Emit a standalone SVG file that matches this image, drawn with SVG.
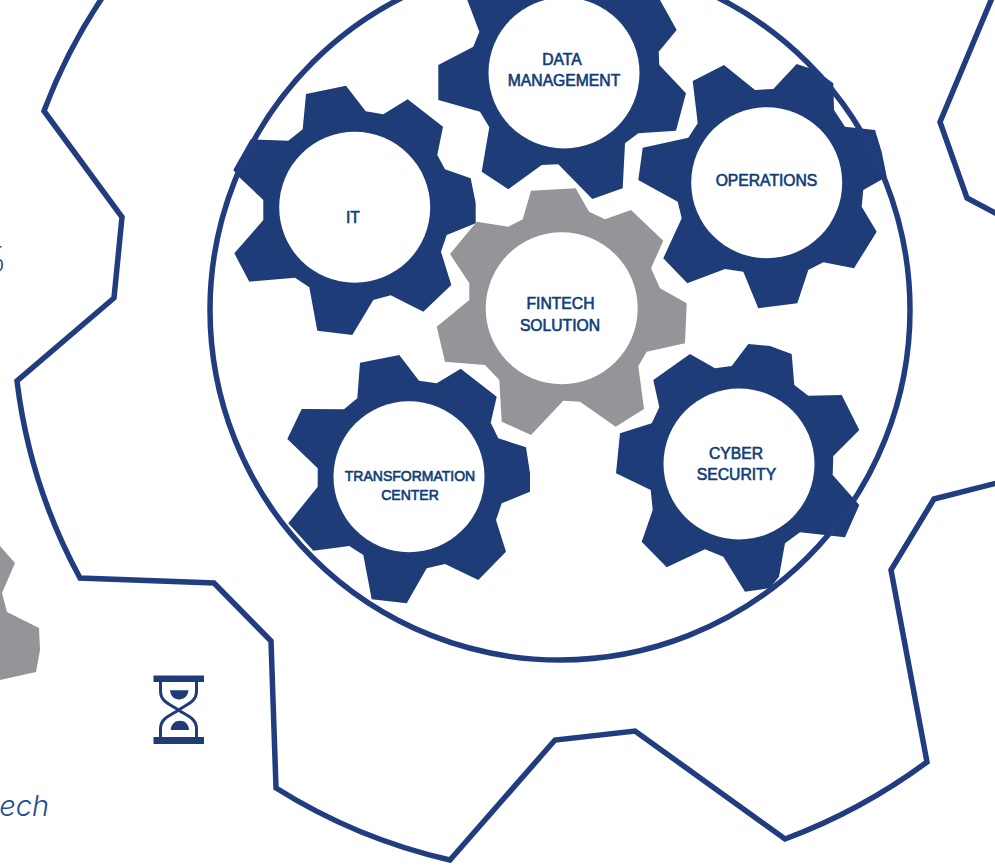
<svg xmlns="http://www.w3.org/2000/svg" width="995" height="866" viewBox="0 0 995 866">
<style>
.line{fill:none;stroke:#223d7f;stroke-width:5.500;stroke-linejoin:miter}
.blue{fill:#1e3d78}
.grey{fill:#939598}
.hole{fill:#fff}
.lbl{font-family:"Liberation Sans",Arial,sans-serif;font-size:15.700px;fill:#0e3d78;stroke:#0e3d78;stroke-width:.6;text-anchor:middle}
</style>
<rect width="995" height="866" fill="#fff"/>
<g id="outer-gear">
<path class="line" d="M102 -2A552 552 0 0 0 44 111L122 217L114 298L17 381A552 552 0 0 0 80 578L214 583L271 641L276 788A560 560 0 0 0 450 860L555 740L635 731L785 839A580 580 0 0 0 927 762L891 570L934 499L997 483"/>
<path class="line" d="M992 -2L940 122L967 198L997 214"/>
</g>
<g id="gear-it"><polygon class="blue" points="306,94 346,85.700 365.700,111.300 383.300,114.300 407.700,99.300 443,126.700 437.300,155 445,169.300 470.700,178.300 475.700,203.300 475.700,223.300 446.700,235 441,251.700 451.300,285 423.300,311.700 390.700,295.300 373.300,300 352.300,335 317.300,330.700 309.300,287.300 295,277.700 249.300,281.700 234.300,253.300 263.300,220 263.300,200 239.300,177.300 233.300,170 250.700,139.300 288.300,140.700 302.700,129.300"/><circle class="hole" cx="354.700" cy="207.300" r="75.500"/></g>
<g id="gear-data"><polygon class="blue" points="467,-5 467.300,0 479.300,31.700 473.300,46.700 438.300,65 438.300,100 480,111.700 489.300,127.300 481.700,171.700 508.300,189.300 541.700,165 558.300,164.300 592.300,199 622.700,188.300 625,143.300 638.300,133.300 676,130.700 686,93.300 659.300,65 658.700,51.700 676.700,30 660,0 660,-5"/><circle class="hole" cx="564" cy="73" r="75.500"/></g>
<g id="gear-operations"><polygon class="blue" points="692.700,81 724,65 755,90 773.300,89 796.700,64 815,70 833.300,83.300 834,110 845,126.700 875,130 881.700,151.700 886.700,176.700 863.300,190 861.700,206.700 876.700,231.700 854,268.300 823.300,262.300 808.300,270 797.300,303.300 758.300,308.300 743.300,271.700 725,269 687.300,283.300 663.300,258.300 681.700,218.300 677.700,201.700 638.300,180 642.700,147.700 688.300,137.700 697.700,123.300"/><circle class="hole" cx="766.700" cy="182.700" r="75.500"/></g>
<g id="gear-transformation"><polygon class="blue" points="360,362.700 399.300,355 419,380.700 436.700,383.300 460.700,368.700 496.700,396.700 490.700,422.700 498.300,438.300 526,447.300 530,473.300 530,491.700 501.700,503.300 496,520 506,551.700 478.300,580 445,564 426.700,568.300 406.700,603.300 371.700,599.300 363.300,555 349.300,546 313.300,550.700 288.300,523.300 317.700,486.700 317.700,468.300 287.300,439 301.700,409 344,409.300 357.300,398.300"/><circle class="hole" cx="409" cy="476.700" r="75.500"/></g>
<g id="gear-cyber"><polygon class="blue" points="748.300,344 770,346 791.700,354 794.300,385 808.300,395.700 841.700,395 859.300,430 833.300,456 832.700,475 859.300,505 845,537.300 800,532.300 785,543.300 779,576.700 770,588 745,591.700 723.300,556.700 705,549.300 666.700,567.300 641.700,541.700 652.700,510 650.700,490 616,473.300 620,433.300 651.700,423.300 659.300,407.300 653.300,380 690,354 715,368.300 731.700,366"/><circle class="hole" cx="739" cy="464" r="75.500"/></g>
<g id="gear-fintech"><polygon class="grey" points="531,190.700 575.700,188.300 589,211.700 605,219.300 631,210 663.300,240.700 651,268.300 660,288.300 686.700,303.300 685,343.300 646.700,351.700 638.300,366 644,409 615.700,426.700 580,401.700 563.300,400.700 531,435 501.700,421.700 499.300,380 485,365 445,361.700 436.700,326.700 469.300,300 469.300,283.300 450,254 476.700,221.700 508.300,226.700 522.700,219.300"/><circle class="hole" cx="561.700" cy="308.300" r="76"/></g>
<circle id="ring" class="line" cx="560" cy="310" r="350"/>
<g id="labels">
<text class="lbl" x="353" y="223">IT</text>
<text class="lbl" x="562" y="64.500">DATA</text>
<text class="lbl" x="564" y="85.500">MANAGEMENT</text>
<text class="lbl" x="766.500" y="185.500">OPERATIONS</text>
<text class="lbl" x="560.500" y="309">FINTECH</text>
<text class="lbl" x="560" y="330.500">SOLUTION</text>
<text class="lbl" x="736" y="458.500">CYBER</text>
<text class="lbl" x="736.500" y="480">SECURITY</text>
<text class="lbl" x="410" y="481" style="font-size:14px">TRANSFORMATION</text>
<text class="lbl" x="410" y="499.500" style="font-size:14px">CENTER</text>
</g>
<g id="left-fragments">
<polygon class="grey" points="0,546 15,563 2,593 7,612 39,628 40,650 36,672 0,680"/>
<text x="-6" y="271" style="font-family:'Liberation Sans',Arial,sans-serif;font-size:17px;fill:#223d6f">0</text>
<rect x="0" y="246" width="1.500" height="1.500" fill="#223d6f"/>
<text x="49" y="816" text-anchor="end" style="font-family:Inter,Arial,sans-serif;font-size:29px;font-style:italic;font-weight:300;fill:#1c4f8f">ech</text>
</g>
<g id="hourglass">
<rect class="blue" x="153.500" y="675.500" width="50.500" height="6.500"/>
<rect class="blue" x="153.500" y="737" width="50.500" height="7"/>
<path fill="none" stroke="#1e3d78" stroke-width="3" d="M160.500 682V691C160.500 702 170 704 178.500 710C187 716 196.500 718 196.500 729V737M196.500 682V691C196.500 702 187 704 178.500 710C170 716 160.500 718 160.500 729V737"/>
<path class="blue" d="M170 690.300H188.500C188 696 184 699.500 179 699.500C174 699.500 170.500 696 170 690.300Z"/>
<path class="blue" d="M170.700 730C171 724 175 720.700 180 720.700C185 720.700 188.700 724 189 730Z"/>
</g>
</svg>
